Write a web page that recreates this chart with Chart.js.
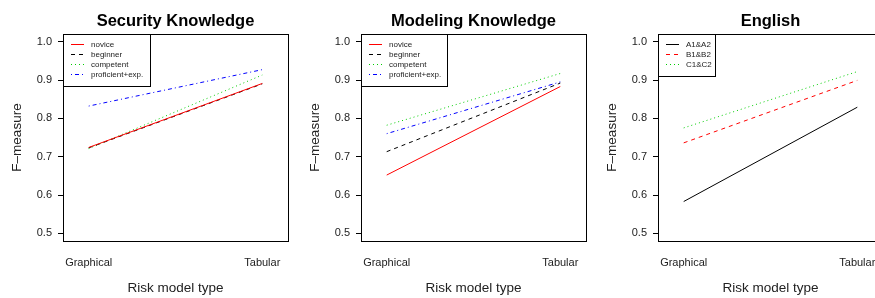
<!DOCTYPE html>
<html lang="en">
<head>
    <meta charset="UTF-8">
    <script src="https://cdn.jsdelivr.net/npm/chart.js"></script>
    <title>F-measure by risk model type</title>
    <style>
        body {
            margin: 0;
            padding: 0;
            background-color: white;
            width: 875px;
            height: 298px;
            overflow: hidden;
            position: relative;
        }

        .panel {
            position: absolute;
            top: 0;
            width: 297px;
            height: 298px;
        }
    </style>
</head>
<body>

    <div class="panel" style="left: 0px;"><canvas id="security" width="297" height="298"></canvas></div>
    <div class="panel" style="left: 298px;"><canvas id="modeling" width="297" height="298"></canvas></div>
    <div class="panel" style="left: 595px;"><canvas id="english" width="297" height="298"></canvas></div>

    <script>
        // values: [Graphical, Tabular]
        const categories = ['Graphical', 'Tabular'];
        const yTicks = [0.5, 0.6, 0.7, 0.8, 0.9, 1.0];

        const securityNames = ['novice', 'beginner', 'competent', 'proficient+exp.'];
        const securityValues = [
            [0.724, 0.891],
            [0.723, 0.890],
            [0.721, 0.913],
            [0.832, 0.927]
        ];

        const modelingNames = ['novice', 'beginner', 'competent', 'proficient+exp.'];
        const modelingValues = [
            [0.652, 0.883],
            [0.713, 0.892],
            [0.782, 0.917],
            [0.760, 0.895]
        ];

        const englishNames = ['A1&A2', 'B1&B2', 'C1&C2'];
        const englishValues = [
            [0.583, 0.829],
            [0.736, 0.899],
            [0.775, 0.922]
        ];

        const fontFamily = "'Liberation Sans', Arial, sans-serif";

        // R style lines: solid, dashed, dotted, dotdash
        const styles4 = [
            { color: '#ff0000', dash: [] },
            { color: '#000000', dash: [4, 4] },
            { color: '#00cd00', dash: [1, 3] },
            { color: '#0000ff', dash: [1, 3, 4, 3] }
        ];
        const styles3 = [
            { color: '#000000', dash: [] },
            { color: '#ff0000', dash: [4, 4] },
            { color: '#00cd00', dash: [1, 3] }
        ];

        // titles, box and the little legend in the top left corner
        const decorations = {
            id: 'decorations',
            afterDraw(chart, args, opts) {
                const ctx = chart.ctx;
                const a = chart.chartArea;
                const cx = (a.left + a.right) / 2;
                ctx.save();

                ctx.strokeStyle = '#000';
                ctx.lineWidth = 1;
                ctx.setLineDash([]);
                ctx.strokeRect(a.left + 0.5, a.top + 0.5, a.right - a.left, a.bottom - a.top);

                ctx.fillStyle = '#000';
                ctx.textAlign = 'center';
                ctx.textBaseline = 'middle';
                ctx.font = 'bold 16.5px ' + fontFamily;
                ctx.fillText(opts.title, cx, 21);

                ctx.font = '13.5px ' + fontFamily;
                ctx.fillStyle = '#222';
                ctx.fillText('Risk model type', cx, 288);

                ctx.translate(17, (a.top + a.bottom) / 2);
                ctx.rotate(-Math.PI / 2);
                ctx.fillText('F\u2013measure', 0, 0);
                ctx.restore();

                // legend
                ctx.save();
                const sets = chart.data.datasets;
                const lx = a.left, ly = a.top;
                const lh = sets.length * 10 + 12;
                ctx.fillStyle = '#fff';
                ctx.fillRect(lx + 0.5, ly + 0.5, opts.legendWidth, lh);
                ctx.strokeStyle = '#000';
                ctx.lineWidth = 1;
                ctx.strokeRect(lx + 0.5, ly + 0.5, opts.legendWidth, lh);
                ctx.font = '8px ' + fontFamily;
                ctx.textAlign = 'left';
                ctx.textBaseline = 'middle';
                sets.forEach((ds, i) => {
                    const y = ly + 10.5 + i * 10;
                    ctx.strokeStyle = ds.borderColor;
                    ctx.setLineDash(ds.borderDash);
                    ctx.beginPath();
                    ctx.moveTo(lx + 8, y);
                    ctx.lineTo(lx + 21, y);
                    ctx.stroke();
                    ctx.fillStyle = '#222';
                    ctx.fillText(ds.label, lx + 28, y);
                });
                ctx.restore();
            }
        };

        function makeChart(id, title, names, values, styles, legendWidth) {
            const datasets = names.map((name, i) => ({
                label: name,
                data: values[i].map((v, j) => ({ x: j + 1, y: v })),
                borderColor: styles[i].color,
                borderDash: styles[i].dash,
                borderWidth: 1,
                pointRadius: 0,
                fill: false,
                tension: 0
            }));

            return new Chart(document.getElementById(id), {
                type: 'line',
                data: { datasets: datasets },
                options: {
                    responsive: false,
                    animation: false,
                    devicePixelRatio: 1,
                    layout: { padding: { top: 34, right: 9, left: 0, bottom: 0 } },
                    plugins: {
                        legend: { display: false },
                        tooltip: { enabled: false },
                        decorations: { title: title, legendWidth: legendWidth }
                    },
                    scales: {
                        x: {
                            type: 'linear',
                            min: 0.852,
                            max: 2.148,
                            afterBuildTicks: s => { s.ticks = categories.map((c, i) => ({ value: i + 1 })); },
                            afterFit: s => { s.height = 57; },
                            grid: { display: false, drawTicks: false },
                            border: { display: false },
                            ticks: {
                                autoSkip: false,
                                maxRotation: 0,
                                padding: 15,
                                color: '#222',
                                font: { family: fontFamily, size: 11 },
                                callback: v => categories[v - 1]
                            }
                        },
                        y: {
                            min: 0.48,
                            max: 1.02,
                            afterBuildTicks: s => { s.ticks = yTicks.map(v => ({ value: v })); },
                            afterFit: s => { s.width = 63; },
                            grid: {
                                drawOnChartArea: false,
                                drawTicks: true,
                                tickLength: 5,
                                color: '#000'
                            },
                            border: { display: true, color: '#000' },
                            ticks: {
                                padding: 6,
                                color: '#222',
                                font: { family: fontFamily, size: 11 },
                                callback: v => v.toFixed(1)
                            }
                        }
                    }
                },
                plugins: [decorations]
            });
        }

        makeChart('security', 'Security Knowledge', securityNames, securityValues, styles4, 87);
        makeChart('modeling', 'Modeling Knowledge', modelingNames, modelingValues, styles4, 86);
        makeChart('english', 'English', englishNames, englishValues, styles3, 57);
    </script>

</body>
</html>
